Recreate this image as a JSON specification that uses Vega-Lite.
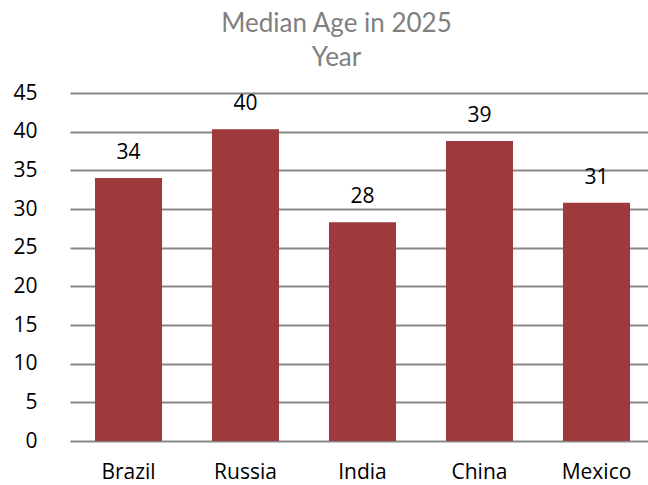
{
  "$schema": "https://vega.github.io/schema/vega-lite/v6.json",
  "width": 585,
  "height": 348,
  "autosize": {"type": "none"},
  "padding": {"left": 70, "top": 93, "right": 0, "bottom": 44},
  "background": "white",
  "config": {"view": {"stroke": null}, "font": "Open Sans"},
  "title": {
    "text": ["Median Age in 2025", "Year"],
    "fontSize": 26,
    "fontWeight": "normal",
    "color": "#808080",
    "font": "Lato",
    "lineHeight": 34,
    "offset": 11,
    "dx": -26,
    "anchor": "middle"
  },
  "data": {
    "values": [
      {"country": "Brazil", "age": 34.0},
      {"country": "Russia", "age": 40.3},
      {"country": "India", "age": 28.3},
      {"country": "China", "age": 38.8},
      {"country": "Mexico", "age": 30.8}
    ]
  },
  "encoding": {
    "x": {
      "field": "country",
      "type": "nominal",
      "sort": null,
      "scale": {"paddingInner": 0.427, "paddingOuter": 0.2135},
      "axis": {
        "title": null,
        "labelAngle": 0,
        "labelFontSize": 21,
        "labelColor": "#000000",
        "labelPadding": 20,
        "ticks": false,
        "domain": false
      }
    },
    "y": {
      "field": "age",
      "type": "quantitative",
      "scale": {"domain": [0, 45]},
      "axis": {
        "title": null,
        "values": [0, 5, 10, 15, 20, 25, 30, 35, 40, 45],
        "labelFontSize": 21,
        "labelColor": "#000000",
        "labelPadding": 33,
        "ticks": false,
        "domain": false,
        "gridColor": "#888888",
        "gridWidth": 2
      }
    }
  },
  "layer": [
    {"mark": {"type": "bar", "color": "#9E393E"}},
    {
      "mark": {"type": "text", "dy": -19, "baseline": "alphabetic", "fontSize": 21, "color": "#000000", "font": "Open Sans"},
      "encoding": {"text": {"field": "age", "type": "quantitative", "format": ".0f"}}
    }
  ]
}
